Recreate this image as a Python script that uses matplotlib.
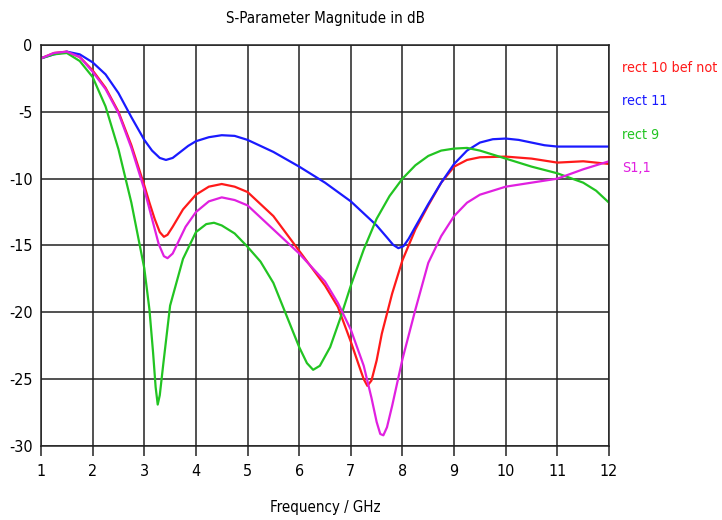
import matplotlib.pyplot as plt

# S11 magnitude (dB) vs frequency (GHz) for four antenna variants
freq_rect10 = [1.0, 1.25, 1.5, 1.75, 2.0, 2.25, 2.5, 2.75, 3.0, 3.1, 3.2, 3.3, 3.38, 3.45, 3.55,
               3.75, 4.0, 4.25, 4.5, 4.75, 5.0, 5.5, 6.0, 6.5, 6.75, 7.0, 7.15, 7.25, 7.32, 7.4,
               7.5, 7.6, 7.8, 8.0, 8.25, 8.5, 8.75, 9.0, 9.25, 9.5, 10.0, 10.5, 11.0, 11.5, 12.0]
s11_rect10 = [-1.0, -0.6, -0.5, -0.9, -1.9, -3.2, -5.0, -7.5, -10.5, -11.8, -13.0, -14.0, -14.35, -14.2, -13.6,
              -12.3, -11.2, -10.6, -10.4, -10.6, -11.0, -12.8, -15.4, -18.0, -19.6, -22.2, -23.9, -25.0, -25.5, -25.1,
              -23.6, -21.6, -18.6, -16.1, -13.8, -12.0, -10.3, -9.1, -8.6, -8.4, -8.35, -8.5, -8.8, -8.7, -8.9]

freq_rect11 = [1.0, 1.25, 1.5, 1.75, 2.0, 2.25, 2.5, 2.75, 3.0, 3.15, 3.3, 3.42, 3.55, 3.7, 3.85, 4.0,
               4.25, 4.5, 4.75, 5.0, 5.5, 6.0, 6.5, 7.0, 7.5, 7.7, 7.82, 7.92, 8.02, 8.12, 8.25, 8.5,
               8.75, 9.0, 9.25, 9.5, 9.75, 10.0, 10.25, 10.5, 10.75, 11.0, 11.5, 12.0]
s11_rect11 = [-1.0, -0.7, -0.5, -0.7, -1.3, -2.2, -3.6, -5.4, -7.1, -7.9, -8.45, -8.6, -8.45, -8.0, -7.55, -7.2,
              -6.9, -6.75, -6.8, -7.1, -8.0, -9.1, -10.3, -11.7, -13.5, -14.4, -14.95, -15.2, -15.05, -14.5, -13.6, -11.9,
              -10.3, -8.9, -7.9, -7.3, -7.05, -7.0, -7.1, -7.3, -7.5, -7.6, -7.6, -7.6]

freq_rect9 = [1.0, 1.25, 1.5, 1.75, 2.0, 2.25, 2.5, 2.75, 3.0, 3.1, 3.17, 3.22, 3.26, 3.3, 3.37, 3.5,
              3.75, 4.0, 4.2, 4.35, 4.5, 4.75, 5.0, 5.25, 5.5, 5.75, 6.0, 6.15, 6.27, 6.4, 6.6,
              6.8, 7.0, 7.25, 7.5, 7.75, 8.0, 8.25, 8.5, 8.75, 9.0, 9.25, 9.5, 10.0, 10.5,
              11.0, 11.5, 11.75, 12.0]
s11_rect9 = [-1.0, -0.7, -0.6, -1.2, -2.4, -4.6, -7.8, -11.8, -16.7, -19.8, -23.0, -25.6, -26.9, -26.2, -23.8, -19.5,
             -16.0, -14.0, -13.4, -13.3, -13.5, -14.1, -15.1, -16.2, -17.8, -20.2, -22.6, -23.8, -24.3, -24.0, -22.6,
             -20.4, -18.0, -15.3, -13.0, -11.3, -10.0, -9.0, -8.3, -7.9, -7.75, -7.7, -7.9, -8.5, -9.1,
             -9.6, -10.3, -10.9, -11.8]

freq_s11 = [1.0, 1.25, 1.5, 1.75, 2.0, 2.25, 2.5, 2.75, 3.0, 3.15, 3.28, 3.38, 3.45, 3.55, 3.65, 3.8, 4.0,
            4.25, 4.5, 4.75, 5.0, 5.5, 6.0, 6.5, 6.75, 7.0, 7.25, 7.4, 7.5, 7.57, 7.63, 7.7, 7.8, 8.0,
            8.25, 8.5, 8.75, 9.0, 9.25, 9.5, 10.0, 10.5, 11.0, 11.5, 12.0]
s11_s11 = [-1.0, -0.6, -0.5, -0.9, -2.0, -3.3, -5.1, -7.7, -10.8, -13.0, -14.9, -15.8, -15.95, -15.6, -14.8, -13.6, -12.5,
           -11.7, -11.4, -11.6, -12.0, -13.8, -15.6, -17.7, -19.3, -21.3, -24.0, -26.4, -28.2, -29.1, -29.2, -28.6, -27.0, -23.5,
           -19.8, -16.3, -14.3, -12.8, -11.8, -11.2, -10.6, -10.3, -10.0, -9.3, -8.7]

labels = ["rect 10 bef not", "rect 11", "rect 9", "S1,1"]
colors = ["#ff1a1a", "#1a1aff", "#22c422", "#e020e0"]
xticks = list(range(1, 13))
yticks = [0, -5, -10, -15, -20, -25, -30]

plt.rcParams['font.family'] = ['DejaVu Sans']
plt.rcParams['font.stretch'] = 'condensed'

fig = plt.figure(figsize=(7.22, 5.2), dpi=100)
ax = fig.add_axes([0.0568, 0.1423, 0.7867, 0.7712])

series = [(freq_rect10, s11_rect10), (freq_rect11, s11_rect11),
          (freq_rect9, s11_rect9), (freq_s11, s11_s11)]
for (f, s), c in zip(series, colors):
    ax.plot(f, s, color=c, lw=1.6, solid_joinstyle='round')

ax.set_xlim(1, 12)
ax.set_ylim(-30, 0)
ax.set_xticks(xticks)
ax.set_yticks(yticks)
ax.set_yticklabels([str(v) for v in yticks])
ax.grid(True, color='#222222', lw=1.1)
for sp in ax.spines.values():
    sp.set_color('#222222')
    sp.set_linewidth(1.1)
ax.tick_params(axis='x', length=7, width=1.1, color='#222222', labelsize=11.5, pad=6)
ax.tick_params(axis='y', length=0, labelsize=11.5, pad=6)

ax.set_title('S-Parameter Magnitude in dB', fontsize=10.8, pad=16)
ax.set_xlabel('Frequency / GHz', fontsize=10.8, labelpad=15)

legend_y = [0.869, 0.806, 0.741, 0.677]
for lab, c, y in zip(labels, colors, legend_y):
    fig.text(0.862, y, lab, color=c, fontsize=10.3, va='center', ha='left')

fig.savefig('out.png', dpi=100)
